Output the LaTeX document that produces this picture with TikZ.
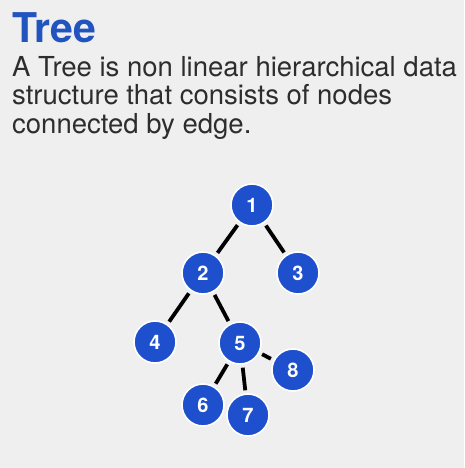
\documentclass[tikz,border=0pt]{standalone}
\usepackage{fontspec}
\setmainfont{TeX Gyre Heros}
\definecolor{bgcol}{RGB}{239,239,239}
\definecolor{nodeblue}{RGB}{30,80,205}
\definecolor{titleblue}{RGB}{34,84,192}
\definecolor{textgray}{RGB}{45,45,45}
\begin{document}
\begin{tikzpicture}[x=1pt, y=-1pt,
  treenode/.style={circle, fill=nodeblue, draw=white, line width=1.6pt,
    minimum size=42pt, inner sep=0pt, text=white,
    font=\fontsize{20}{20}\selectfont\bfseries},
  treeedge/.style={line width=3.8pt, black, shorten <=3pt, shorten >=3pt},
  textline/.style={anchor=base west, inner sep=0pt, text=textgray,
    font=\fontsize{27.5}{28}\selectfont}]

%%background
\fill[bgcol] (0,0) rectangle (464,468);
\useasboundingbox (0,0) rectangle (464,468);

%%heading
\node[anchor=base west, inner sep=0pt, text=titleblue,
  font=\fontsize{41}{41}\selectfont\bfseries] (title) at (12,43) {Tree};
\node[textline] (lineone) at (12,77) {A Tree is non linear hierarchical data};
\node[textline] (linetwo) at (12,105) {structure that consists of nodes};
\node[textline] (linethree) at (12,133) {connected by edge.};

%%nodes
\node[treenode] (n1) at (252,205) {1};
\node[treenode] (n2) at (203,273) {2};
\node[treenode] (n3) at (298,273) {3};
\node[treenode] (n4) at (155,342) {4};
\node[treenode] (n5) at (240,343) {5};
\node[treenode] (n6) at (203,405) {6};
\node[treenode] (n7) at (248,415) {7};
\node[treenode] (n8) at (293,370) {8};

%%edges
\draw[treeedge] (n1) -- (n2);
\draw[treeedge] (n1) -- (n3);
\draw[treeedge] (n2) -- (n4);
\draw[treeedge] (n2) -- (n5);
\draw[treeedge] (n5) -- (n6);
\draw[treeedge] (n5) -- (n7);
\draw[treeedge] (n5) -- (n8);

\end{tikzpicture}
\end{document}
